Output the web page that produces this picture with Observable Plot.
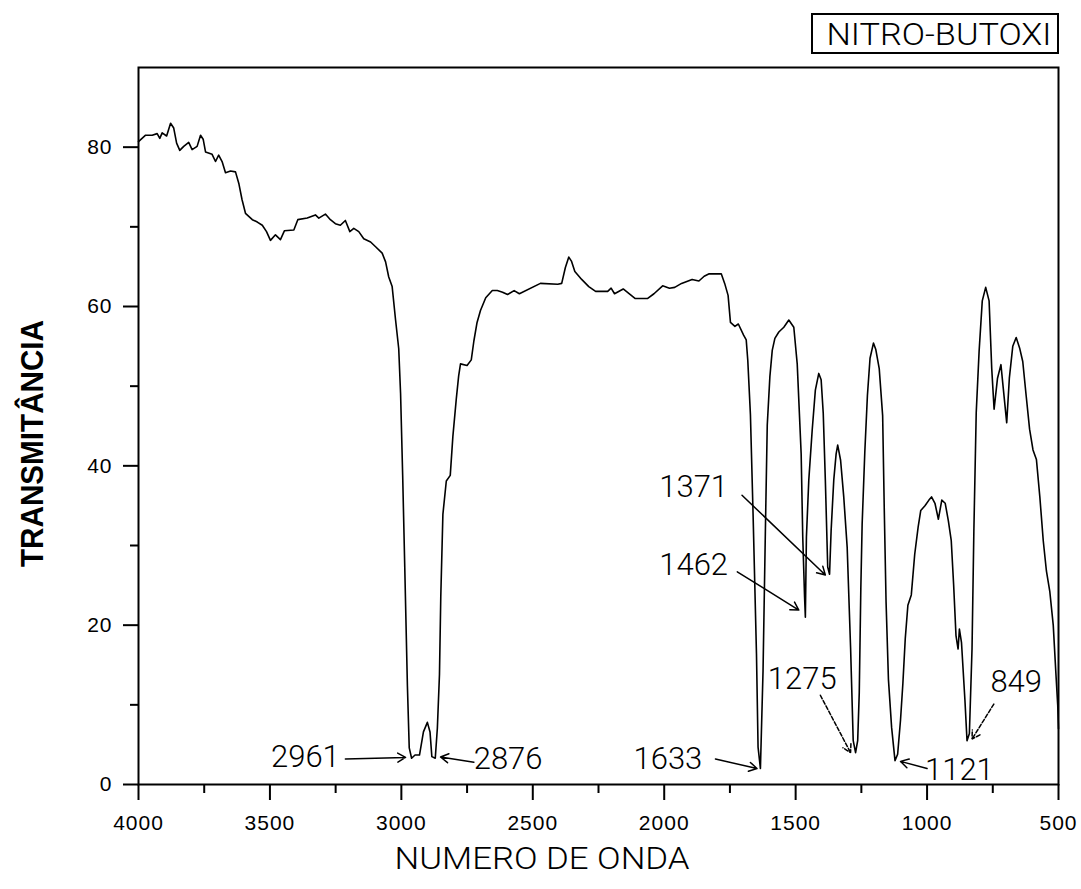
<!DOCTYPE html>
<html><head><meta charset="utf-8">
<script src="https://cdn.jsdelivr.net/npm/d3@7"></script>
<script src="https://cdn.jsdelivr.net/npm/@observablehq/plot@0.6"></script>
<style>body{margin:0;background:#fff;}</style>
</head><body><div id="chart"></div>
<script>
const wavenumber = [4000,3973,3948,3929,3919,3910,3893,3878,3866,3855,3843,3828,3809,3796,3777,3764,3754,3745,3720,3707,3695,3682,3669,3650,3631,3618,3606,3593,3567,3548,3529,3513,3498,3479,3460,3445,3409,3394,3358,3327,3314,3289,3270,3251,3232,3213,3196,3181,3162,3143,3117,3098,3073,3060,3048,3035,3022,3010,3003,2995,2987,2977,2970,2961,2948,2931,2916,2901,2891,2884,2871,2863,2855,2850,2842,2829,2814,2804,2791,2782,2775,2750,2734,2724,2712,2699,2679,2654,2635,2615,2596,2571,2551,2471,2405,2390,2376,2363,2353,2340,2314,2287,2261,2215,2202,2189,2156,2110,2064,2039,2006,1980,1960,1934,1894,1868,1848,1829,1783,1770,1757,1748,1731,1718,1698,1688,1682,1672,1662,1649,1643,1634,1624,1615,1608,1598,1589,1579,1564,1545,1526,1507,1494,1479,1473,1466,1463,1459,1450,1437,1425,1412,1403,1395,1387,1378,1371,1365,1355,1346,1340,1329,1317,1304,1291,1281,1272,1264,1258,1252,1247,1237,1227,1217,1204,1195,1182,1169,1163,1156,1147,1135,1122,1112,1101,1092,1083,1073,1060,1047,1034,1024,1008,993,983,970,957,944,931,919,908,899,890,882,877,869,856,848,839,829,822,813,802,790,777,764,754,745,732,719,710,697,687,674,661,648,636,623,610,597,584,571,558,546,533,520,510,503,500];
const transmittance = [80.7,81.5,81.5,81.7,81.1,81.8,81.4,83.0,82.4,80.5,79.6,80.1,80.6,79.7,80.1,81.5,81.0,79.4,79.1,78.2,79.0,78.2,76.8,77.0,76.9,75.4,73.4,71.7,70.9,70.6,70.2,69.4,68.3,69.0,68.4,69.5,69.6,70.9,71.1,71.5,71.1,71.6,70.9,70.4,70.2,70.8,69.4,69.8,69.4,68.5,68.1,67.5,66.7,65.6,63.7,62.5,58.3,54.7,49.1,38.8,27.2,12.4,4.6,3.3,3.7,3.7,6.6,7.8,6.6,3.5,3.3,7.1,13.8,23.6,33.9,38.1,38.8,43.7,48.4,51.3,52.8,52.6,53.3,55.7,58.0,59.5,61.1,62.0,62.0,61.8,61.5,62.0,61.6,62.9,62.8,62.9,64.9,66.2,65.7,64.4,63.4,62.5,61.9,61.9,62.3,61.6,62.2,61.0,61.0,61.6,62.6,62.3,62.4,62.9,63.4,63.2,63.8,64.1,64.1,62.9,61.4,58.0,57.5,57.8,56.4,55.8,53.2,46.4,34.0,16.4,4.7,2.0,14.3,32.1,45.1,51.2,54.5,56.0,56.8,57.4,58.3,57.4,52.8,41.5,31.1,23.5,21.0,31.1,38.2,44.5,49.5,51.6,50.8,46.6,38.2,27.3,26.4,31.9,38.2,41.5,42.6,40.7,36.1,29.8,17.2,5.5,4.0,5.5,11.5,24.6,32.7,41.6,48.8,53.5,55.4,54.6,52.2,46.3,34.8,22.9,13.2,7.2,3.0,3.8,8.1,12.7,18.3,22.5,23.8,28.9,32.3,34.4,35.0,35.7,36.1,35.3,33.3,35.7,35.3,33.1,30.6,25.1,18.7,17.0,19.5,17.8,10.6,5.5,6.4,17.0,31.8,46.7,54.4,60.7,62.4,60.7,52.2,47.1,51.0,52.7,49.7,45.4,51.0,55.0,56.1,54.8,53.1,48.8,44.6,42.0,40.8,36.1,30.6,26.8,24.2,20.0,14.0,10.0,7.0];

const xMajorTicks = [4000,3500,3000,2500,2000,1500,1000,500];
const xMinorTicks = [3750,3250,2750,2250,1750,1250,750];
const yMajorTicks = [0,20,40,60,80];
const yMinorTicks = [10,30,50,70];

const peakLabels = ["2961","2876","1633","1371","1462","1275","1121","849"];
const peakLabelX = [3365,2594,1986,1888,1888,1475,877,661];
const peakLabelY = [3.4,3.2,3.2,37.3,27.5,13.2,1.8,12.8];
const arrowFromX = [3213,2724,1805,1704,1722,1406,1000,746];
const arrowFromY = [3.2,2.8,3.2,36.3,26.7,11.2,2.0,10.1];
const arrowToX = [2984,2851,1647,1387,1488,1291,1101,829];
const arrowToY = [3.4,3.45,2.0,26.3,21.9,4.0,2.9,5.7];
const dashedArrows = ["1275","849"];

const titleText = "NITRO-BUTOXI";
const xLabel = "NUMERO DE ONDA";
const yLabel = "TRANSMITÂNCIA";

const spectrum = wavenumber.map((w, i) => ({w, t: transmittance[i]}));
const notes = peakLabels.map((label, i) => ({
  label, lx: peakLabelX[i], ly: peakLabelY[i],
  x1: arrowFromX[i], y1: arrowFromY[i], x2: arrowToX[i], y2: arrowToY[i]
}));

const thinFont = "Roboto, 'Liberation Sans', Arial, sans-serif";

const chart = Plot.plot({
  width: 1081,
  height: 889,
  marginLeft: 138,
  marginRight: 23,
  marginTop: 67,
  marginBottom: 105,
  style: {background: "white", fontFamily: "'Liberation Sans', Arial, sans-serif", color: "black"},
  x: {domain: [4000, 500], label: null},
  y: {domain: [0, 90], label: null},
  marks: [
    Plot.axisX(xMinorTicks, {tickSize: 9, strokeWidth: 2, tickFormat: () => "", label: null}),
    Plot.axisX(xMajorTicks, {tickSize: 16, tickPadding: 15, strokeWidth: 2, fontSize: 21, tickFormat: d => String(d), label: null}),
    Plot.axisY(yMinorTicks, {tickSize: 8, strokeWidth: 2, tickFormat: () => "", label: null}),
    Plot.axisY(yMajorTicks, {tickSize: 15, tickPadding: 11, strokeWidth: 2, fontSize: 21, tickFormat: d => String(d), label: null}),
    Plot.line(spectrum, {x: "w", y: "t", stroke: "black", strokeWidth: 1.6}),
    Plot.arrow(notes.filter(d => !dashedArrows.includes(d.label)), {x1: "x1", y1: "y1", x2: "x2", y2: "y2", stroke: "black", strokeWidth: 1.5, headLength: 9}),
    Plot.arrow(notes.filter(d => dashedArrows.includes(d.label)), {x1: "x1", y1: "y1", x2: "x2", y2: "y2", stroke: "black", strokeWidth: 1.5, headLength: 9, strokeDasharray: "4,2"}),
    Plot.text(notes, {x: "lx", y: "ly", text: "label", fontSize: 31, fontWeight: 300, fontFamily: thinFont, fill: "black", lineAnchor: "middle"}),
    Plot.frame({stroke: "black", strokeWidth: 2})
  ]
});

const svg = d3.select(chart);
svg.selectAll("g[aria-label='x-axis tick label'] text, g[aria-label='y-axis tick label'] text").attr("letter-spacing", "1px");

// title box
svg.append("rect").attr("x", 812).attr("y", 14).attr("width", 246).attr("height", 39)
  .attr("fill", "white").attr("stroke", "black").attr("stroke-width", 2);
svg.append("text").attr("x", 939).attr("y", 45).attr("text-anchor", "middle")
  .attr("font-family", thinFont).attr("font-weight", 300).attr("font-size", 32)
  .attr("textLength", 225).attr("lengthAdjust", "spacingAndGlyphs").text(titleText);

// x label
svg.append("text").attr("x", 542).attr("y", 869).attr("text-anchor", "middle")
  .attr("font-family", thinFont).attr("font-weight", 300).attr("font-size", 32)
  .attr("textLength", 295).attr("lengthAdjust", "spacingAndGlyphs").text(xLabel);

// y label
svg.append("text").attr("transform", "translate(43,443.5) rotate(-90)").attr("text-anchor", "middle")
  .attr("font-family", "'Liberation Sans', Arial, sans-serif").attr("font-weight", "bold").attr("font-size", 32)
  .attr("textLength", 247).attr("lengthAdjust", "spacingAndGlyphs").text(yLabel);

document.getElementById("chart").appendChild(chart);
</script>
</body></html>
